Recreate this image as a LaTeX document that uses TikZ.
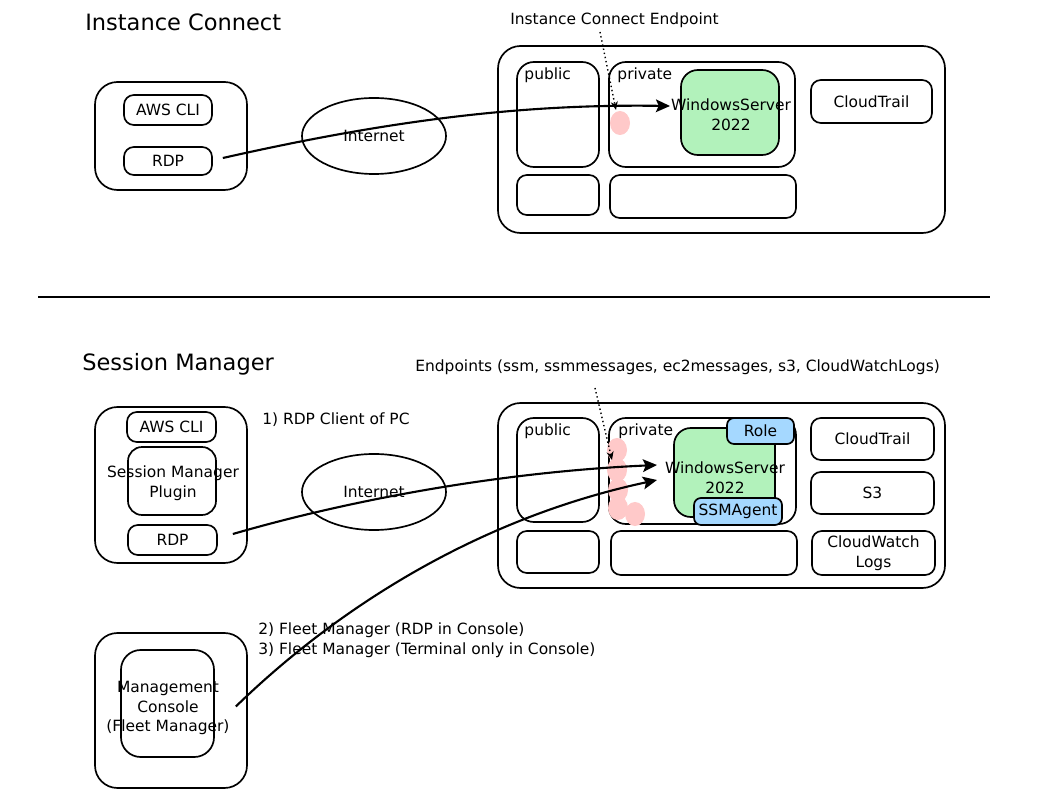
\documentclass[tikz,border=0pt]{standalone}
\usepackage{fontspec}
\setmainfont{DejaVu Sans}
\usepackage{tikz}
\usetikzlibrary{arrows.meta,positioning,fit,shapes.geometric}
\usepackage{xcolor}
\definecolor{srvcol}{HTML}{B2F2BB}
\definecolor{endpcol}{HTML}{FFC9C9}
\definecolor{tagcol}{HTML}{A5D8FF}
\tikzset{
  % rounded box, fitted to two corners
  box/.style={rectangle, rounded corners=#1, draw=black, line width=1.2pt, inner sep=0pt},
  box/.default={7pt},
  % outer group box
  gbox/.style={box=16pt},
  % windows server
  srvbox/.style={box=12pt, fill=srvcol},
  % role / agent tag
  tagbox/.style={box=5pt, fill=tagcol},
  % vpc endpoint blob
  endp/.style={ellipse, fill=endpcol, draw=none, minimum width=0.5cm, minimum height=0.6cm, inner sep=0pt},
  % internet cloud
  netcloud/.style={ellipse, draw=black, line width=1.2pt, minimum width=3.6cm, minimum height=1.9cm,
                   font=\fontsize{11}{14}\selectfont},
  % plain text
  txt/.style={font=\fontsize{11}{14}\selectfont, inner sep=0pt, align=#1},
  txt/.default={center},
  % section title
  title/.style={font=\fontsize{16}{19}\selectfont, anchor=west, inner sep=0pt},
  % connection arrow
  conn/.style={-{Stealth[length=10pt,width=9pt,inset=2pt]}, line width=1.5pt},
  % endpoint hint
  hint/.style={-{Stealth[length=6pt,width=5pt]}, dotted, line width=1pt},
}

\begin{document}
\begin{tikzpicture}[x=0.025cm, y=-0.025cm]
  \useasboundingbox (0,0) rectangle (1055,807);
  % ===== Instance Connect =====
  \node[title] (ictitle) at (85,22) {Instance Connect};
  \node[gbox, fit={(95,82) (247,190)}] (icpc) {};
  \node[box, fit={(124,95) (212,125)}] (iccli) {};
  \node[txt] (iccli-txt) at (iccli) {AWS CLI};
  \node[box, fit={(124,147) (212,175)}] (icrdp) {};
  \node[txt] (icrdp-txt) at (icrdp) {RDP};
  \node[netcloud] (icnet) at (374,136) {Internet};
  % aws side
  \node[gbox, fit={(498,46) (945,233)}] (icaws) {};
  \node[box=12pt, fit={(517,62) (599,167)}] (icpub) {};
  \node[box=12pt, fit={(609,62) (795,167)}] (icpriv) {};
  \node[box, fit={(517,175) (599,215)}] (icpubb) {};
  \node[box, fit={(610,175) (796,218)}] (icprivb) {};
  \node[box, fit={(811,80) (932,123)}] (ictrail) {};
  \node[txt] (ictrail-txt) at (ictrail) {CloudTrail};
  \node[txt, anchor=north west] (icpub-txt) at ([shift={(8,6)}]icpub.north west) {public};
  \node[txt, anchor=north west] (icpriv-txt) at ([shift={(9,6)}]icpriv.north west) {private};
  \node[srvbox, fit={(681,70) (779,155)}] (icsrv) {};
  \node[txt] (icsrv-txt) at (731,115) {WindowsServer\\2022};
  \node[endp] (icep) at (620,123) {};
  \node[txt, anchor=west] (iceplabel) at (510,20) {Instance Connect Endpoint};
  \coordinate (icdot) at (600,32);
  \coordinate (icdotend) at (616,110);
  \draw[hint] (icdot) -- (icdotend);
  \coordinate (icend) at (670,106);
  \draw[conn] ([shift={(10,-3)}]icrdp.east) .. controls (400,118) and (530,104) .. (icend);

  \draw[line width=2pt] (38,297) -- (990,297);

  % ===== Session Manager =====
  \node[title] (smtitle) at (82,364) {Session Manager};
  \node[gbox, fit={(95,407) (247,563)}] (smpc) {};
  \node[box, fit={(127,412) (216,442)}] (smcli) {};
  \node[txt] (smcli-txt) at (smcli) {AWS CLI};
  \node[box=10pt, fit={(128,447) (216,515)}] (smplug) {};
  \node[txt] (smplug-txt) at (173,483) {Session Manager\\Plugin};
  \node[box, fit={(128,525) (217,555)}] (smrdp) {};
  \node[txt] (smrdp-txt) at (smrdp) {RDP};
  \node[txt, anchor=west] (smnote1) at (262,420) {1) RDP Client of PC};
  \node[netcloud] (smnet) at (374,492) {Internet};
  \node[gbox, fit={(95,633) (247,788)}] (mcpc) {};
  \node[box=14pt, fit={(121,650) (214,757)}] (mcbox) {};
  \node[txt] (mcbox-txt) at (168,708) {Management\\Console\\(Fleet Manager)};
  \node[txt=left, anchor=west] (smnote2) at (258,640)
    {2) Fleet Manager (RDP in Console)\\3) Fleet Manager (Terminal only in Console)};
  % aws side
  \node[gbox, fit={(498,403) (945,588)}] (smaws) {};
  \node[box=12pt, fit={(517,418) (599,522)}] (smpub) {};
  \node[box=12pt, fit={(609,418) (796,524)}] (smpriv) {};
  \node[box, fit={(517,531) (599,573)}] (smpubb) {};
  \node[box, fit={(611,531) (797,575)}] (smprivb) {};
  \node[box, fit={(811,418) (934,460)}] (smtrail) {};
  \node[txt] (smtrail-txt) at (smtrail) {CloudTrail};
  \node[box, fit={(811,472) (934,514)}] (sms3) {};
  \node[txt] (sms3-txt) at (sms3) {S3};
  \node[box, fit={(812,531) (935,575)}] (smcw) {};
  \node[txt] (smcw-txt) at (smcw) {CloudWatch\\Logs};
  \node[txt, anchor=north west] (smpub-txt) at ([shift={(8,6)}]smpub.north west) {public};
  \node[txt, anchor=north west] (smpriv-txt) at ([shift={(10,6)}]smpriv.north west) {private};
  \node[srvbox, fit={(674,428) (775,517)}] (smsrv) {};
  \node[tagbox, fit={(727,418) (794,444)}] (smrole) {};
  \node[txt] (smrole-txt) at (smrole) {Role};
  \node[tagbox, fit={(694,498) (782,525)}] (smagent) {};
  \node[txt] (smagent-txt) at (smagent) {SSMAgent};
  \node[txt] (smsrv-txt) at (725,478) {WindowsServer\\2022};
  \foreach \ex/\ey [count=\i] in {617/450, 617/470, 618/490, 618/508, 635/514}
    \node[endp] (smep\i) at (\ex,\ey) {};
  \node[txt, anchor=west] (smeplabel) at (415,367) {Endpoints (ssm, ssmmessages, ec2messages, s3, CloudWatchLogs)};
  \coordinate (smdot) at (595,388);
  \coordinate (smdotend) at (612,460);
  \draw[hint] (smdot) -- (smdotend);
  \coordinate (smend1) at (657,465);
  \coordinate (smend2) at (657,480);
  \draw[conn] ([shift={(15,-6)}]smrdp.east) .. controls (350,500) and (500,472) .. (smend1);
  \draw[conn] ([shift={(21,3)}]mcbox.east) .. controls (330,615) and (470,520) .. (smend2);
\end{tikzpicture}
\end{document}
